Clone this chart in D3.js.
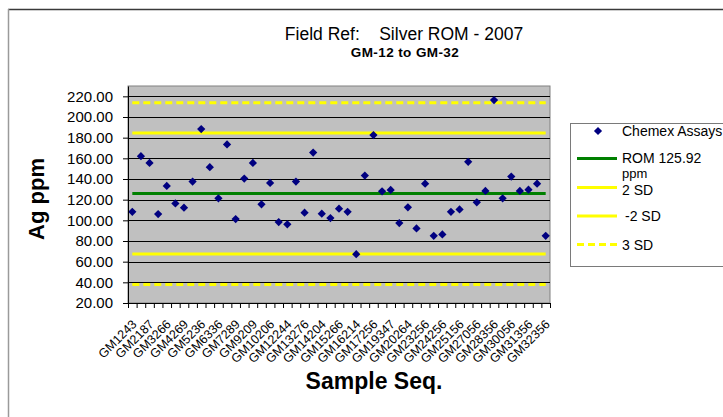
<!DOCTYPE html>
<html>
<head>
<meta charset="utf-8">
<script src="https://cdn.jsdelivr.net/npm/d3@7"></script>
<style>
  body { margin: 0; background: #fff; }
  svg { display: block; font-family: Arial, "Liberation Sans", sans-serif; }
</style>
</head>
<body>
<svg id="chart"></svg>
<script>
// sample labels shown on the axis (every second sample)
const tickLabels = ['GM1243', 'GM2187', 'GM3266', 'GM4269', 'GM5236', 'GM6336', 'GM7289',
    'GM9209', 'GM10206', 'GM12244', 'GM13276', 'GM14204', 'GM15266', 'GM16214', 'GM17256',
    'GM19347', 'GM20264', 'GM23256', 'GM24256', 'GM25156', 'GM27056', 'GM28356', 'GM30056',
    'GM31356', 'GM32356'];

// Chemex assays, Ag ppm, in sample order
const agPpm = [108.3, 162.1, 155.6, 106.1, 133.3, 116.4, 112.2, 137.5, 188.3, 151.4,
    121.3, 173.4, 101.2, 140.4, 155.6, 115.5, 136.2, 98.3, 96.1, 137.5,
    107.4, 165.6, 106.4, 102.2, 111.3, 108.3, 67.2, 143.3, 182.5, 128.1,
    129.4, 97.3, 112.6, 92.2, 135.5, 85.0, 86.3, 108.3, 110.6, 156.6,
    117.4, 128.4, 216.4, 121.3, 142.3, 128.4, 129.7, 135.5, 85.0];

const refNames = ['ROM 125.92 ppm', '2 SD', '-2 SD', '3 SD', '-3 SD'];
const refValues = [125.92, 184.5, 67.3, 213.8, 38.0];

const yTicks = [20, 40, 60, 80, 100, 120, 140, 160, 180, 200, 220];

class ControlChart {

    constructor(config) {
        this.config = {
            parent: config.parent,
            width: config.width || 723,
            height: config.height || 417,
            margin: config.margin || { top: 86, right: 173, bottom: 114, left: 128 },
        };
        this.init();
    }

    init() {
        let self = this;
        let margin = self.config.margin;

        self.svg = d3.select(self.config.parent)
            .attr('width', self.config.width)
            .attr('height', self.config.height);

        // outer chart frame
        self.svg.append('line')
            .attr('x1', 8).attr('x2', 730).attr('y1', 9.5).attr('y2', 9.5)
            .attr('stroke', '#3a3a3a').attr('stroke-width', 1.5);
        self.svg.append('line')
            .attr('x1', 8.5).attr('x2', 8.5).attr('y1', 9).attr('y2', 420)
            .attr('stroke', '#9a9a9a').attr('stroke-width', 1.5);

        self.inner_width = self.config.width - margin.left - margin.right;
        self.inner_height = self.config.height - margin.top - margin.bottom;

        self.chart = self.svg.append('g')
            .attr('transform', `translate(${margin.left}, ${margin.top})`);

        self.xscale = d3.scaleBand()
            .domain(d3.range(agPpm.length))
            .range([0, self.inner_width]);

        self.xedges = d3.scaleLinear()
            .domain([0, agPpm.length])
            .range([0, self.inner_width]);

        self.yscale = d3.scaleLinear()
            .domain([20, 230])
            .range([self.inner_height, 0]);
    }

    render() {
        let self = this;
        let w = self.inner_width, h = self.inner_height;
        let cx = i => self.xscale(i) + self.xscale.bandwidth() / 2;

        self.chart.append('rect')
            .attr('width', w).attr('height', h)
            .attr('fill', '#c0c0c0')
            .attr('stroke', '#808080');

        self.chart.append('g')
            .selectAll('line')
            .data(yTicks.slice(1))
            .join('line')
            .attr('x1', 0).attr('x2', w)
            .attr('y1', d => Math.round(self.yscale(d)) + 0.5)
            .attr('y2', d => Math.round(self.yscale(d)) + 0.5)
            .attr('stroke', '#000');

        // reference lines
        let refStyles = [
            { color: '#008000', dash: null },
            { color: '#ffff00', dash: null },
            { color: '#ffff00', dash: null },
            { color: '#ffff00', dash: '7,4' },
            { color: '#ffff00', dash: '7,4' },
        ];
        self.chart.append('g')
            .selectAll('line')
            .data(refValues)
            .join('line')
            .attr('x1', cx(0)).attr('x2', cx(agPpm.length - 1))
            .attr('y1', d => self.yscale(d)).attr('y2', d => self.yscale(d))
            .attr('stroke', (d, i) => refStyles[i].color)
            .attr('stroke-width', 3)
            .attr('stroke-dasharray', (d, i) => refStyles[i].dash);

        // assay points
        let diamond = d3.symbol(d3.symbolSquare, 34);
        self.chart.append('g')
            .selectAll('path')
            .data(agPpm)
            .join('path')
            .attr('d', diamond)
            .attr('transform', (d, i) => `translate(${cx(i)}, ${self.yscale(d)}) rotate(45)`)
            .attr('fill', '#000080');

        // axes
        let yaxis = d3.axisLeft(self.yscale)
            .tickValues(yTicks)
            .tickFormat(d3.format('.2f'))
            .tickSize(5)
            .tickPadding(10)
            .tickSizeOuter(0);
        let yg = self.chart.append('g').call(yaxis);
        yg.selectAll('text').attr('font-size', '15px').attr('fill', '#000').attr('font-family', null);
        yg.select('.domain').attr('stroke', '#000');

        let xaxis = d3.axisBottom(self.xedges)
            .tickValues(d3.range(agPpm.length + 1))
            .tickFormat('')
            .tickSize(5)
            .tickSizeOuter(0);
        let xg = self.chart.append('g')
            .attr('transform', `translate(0, ${h})`)
            .call(xaxis);
        xg.select('.domain').attr('stroke', '#000');

        self.chart.append('g')
            .selectAll('text')
            .data(tickLabels)
            .join('text')
            .attr('transform', (d, i) => `translate(${cx(i * 2) + 5}, ${h + 22}) rotate(-45)`)
            .attr('text-anchor', 'end')
            .attr('font-size', '12.5px')
            .text(d => d);

        // titles
        self.svg.append('text')
            .attr('x', 404).attr('y', 40)
            .attr('text-anchor', 'middle')
            .attr('font-size', '17.5px')
            .style('white-space', 'pre')
            .text('Field Ref:    Silver ROM - 2007');

        self.svg.append('text')
            .attr('x', 405).attr('y', 57)
            .attr('text-anchor', 'middle')
            .attr('font-size', '13.5px')
            .attr('font-weight', 'bold')
            .attr('letter-spacing', '0.4px')
            .text('GM-12 to GM-32');

        self.svg.append('text')
            .attr('transform', 'translate(44, 199) rotate(-90)')
            .attr('text-anchor', 'middle')
            .attr('font-size', '22px')
            .attr('font-weight', 'bold')
            .text('Ag ppm');

        self.svg.append('text')
            .attr('x', 374).attr('y', 389)
            .attr('text-anchor', 'middle')
            .attr('font-size', '23px')
            .attr('font-weight', 'bold')
            .text('Sample Seq.');

        self.renderLegend();
    }

    renderLegend() {
        let self = this;
        let lg = self.svg.append('g');

        lg.append('rect')
            .attr('x', 570.5).attr('y', 123.5)
            .attr('width', 170).attr('height', 143)
            .attr('fill', '#fff')
            .attr('stroke', '#7a7a7a');

        lg.append('path')
            .attr('d', d3.symbol(d3.symbolSquare, 34))
            .attr('transform', 'translate(598, 131) rotate(45)')
            .attr('fill', '#000080');
        lg.append('text').attr('x', 622).attr('y', 136)
            .attr('font-size', '14px').text('Chemex Assays');

        let items = [
            { y: 158.5, color: '#008000', dash: null },
            { y: 187.5, color: '#ffff00', dash: null },
            { y: 216, color: '#ffff00', dash: null },
            { y: 244.5, color: '#ffff00', dash: '7,4' },
        ];
        lg.selectAll('line')
            .data(items)
            .join('line')
            .attr('x1', 577).attr('x2', 617)
            .attr('y1', d => d.y).attr('y2', d => d.y)
            .attr('stroke', d => d.color)
            .attr('stroke-width', 3)
            .attr('stroke-dasharray', d => d.dash);

        // the long ROM label wraps to a second line just above the 2 SD row
        lg.append('text').attr('x', 622).attr('y', 163)
            .attr('font-size', '14px').text('ROM 125.92');
        lg.append('text').attr('x', 622).attr('y', 177.5)
            .attr('font-size', '13px').text('ppm');
        lg.append('text').attr('x', 622).attr('y', 195)
            .attr('font-size', '14px').text(refNames[1]);
        lg.append('text').attr('x', 625).attr('y', 221)
            .attr('font-size', '14px').text(refNames[2]);
        lg.append('text').attr('x', 622).attr('y', 249.5)
            .attr('font-size', '14px').text(refNames[3]);
    }
}

let chart = new ControlChart({ parent: '#chart' });
chart.render();
</script>
</body>
</html>
